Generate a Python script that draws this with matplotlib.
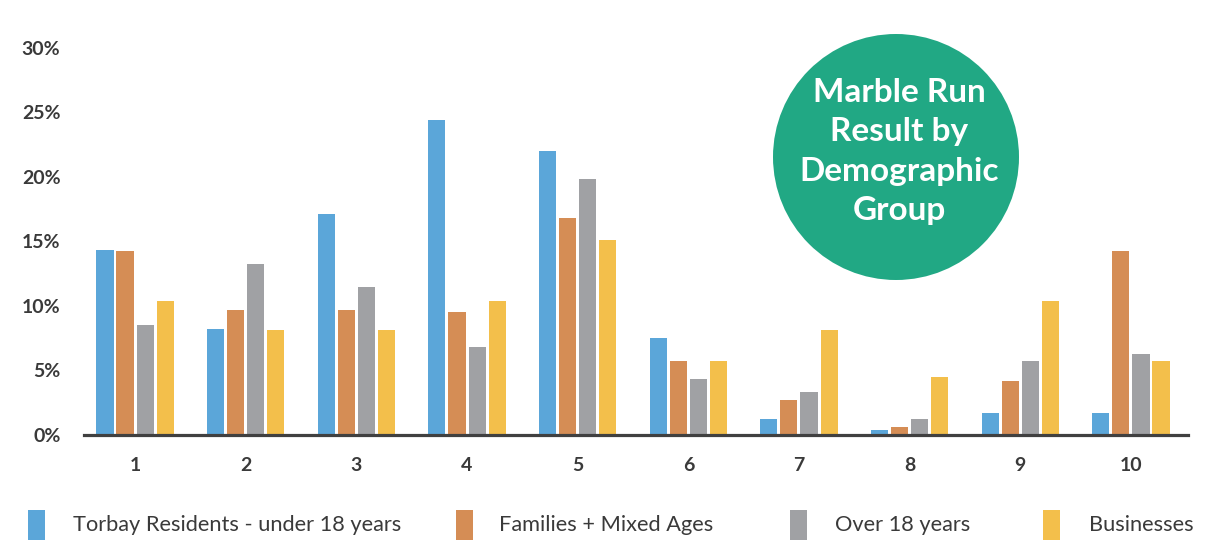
import matplotlib
matplotlib.use("Agg")
import matplotlib.pyplot as plt
from matplotlib.patches import Circle, Rectangle
import numpy as np

plt.rcParams["font.family"] = ["Lato", "DejaVu Sans"]

groups = ["1", "2", "3", "4", "5", "6", "7", "8", "9", "10"]
series_names = [
    "Torbay Residents - under 18 years",
    "Families + Mixed Ages",
    "Over 18 years",
    "Businesses",
]
under_18 = [14.3, 8.2, 17.1, 24.4, 22.0, 7.5, 1.2, 0.35, 1.65, 1.65]
families = [14.25, 9.7, 9.65, 9.5, 16.8, 5.7, 2.7, 0.55, 4.15, 14.25]
over_18 = [8.5, 13.2, 11.45, 6.8, 19.8, 4.3, 3.3, 1.2, 5.7, 6.25]
businesses = [10.35, 8.1, 8.1, 10.35, 15.1, 5.7, 8.1, 4.5, 10.35, 5.7]
y_ticks = [0, 5, 10, 15, 20, 25, 30]
title_lines = ["Marble Run", "Result by", "Demographic", "Group"]

colors = ["#5ba6d9", "#d58d55", "#a0a1a4", "#f3bf4b"]
text_color = "#3a3a3a"

W, H = 1223, 542
fig = plt.figure(figsize=(W / 100, H / 100), dpi=100)
ax = fig.add_axes([84 / W, 1 - 434.5 / H, (1188 - 84) / W, (434.5 - 48) / H])

x = np.arange(1, len(groups) + 1)
step = 0.181
width = 0.154
for i, (vals, col) in enumerate(zip([under_18, families, over_18, businesses], colors)):
    ax.bar(x + (i - 1.5) * step, vals, width=width, color=col, zorder=2)

ax.set_xlim(1 - 51 / 110.6, 10 + 57 / 110.6)
ax.set_ylim(0, 30)
ax.set_yticks(y_ticks)
ax.set_yticklabels([f"{t}%" for t in y_ticks])
ax.set_xticks(x)
ax.set_xticklabels(groups)
ax.tick_params(axis="both", length=0, labelsize=14, colors=text_color)
ax.tick_params(axis="y", pad=17)
ax.tick_params(axis="x", pad=16)
for lab in ax.get_xticklabels() + ax.get_yticklabels():
    lab.set_fontweight("bold")
for s in ["top", "right", "left"]:
    ax.spines[s].set_visible(False)
ax.spines["bottom"].set_linewidth(2.3)
ax.spines["bottom"].set_color("#404040")
ax.spines["bottom"].set_zorder(3)

# title badge
fig.patches.append(Circle((896 / 100, (H - 157) / 100), 1.23, transform=fig.dpi_scale_trans,
                          facecolor="#21a884", edgecolor="none", zorder=5))
for k, line in enumerate(title_lines):
    fig.text(899 / W, 1 - (92 + k * 39.5) / H, line, ha="center", va="center",
             color="white", fontsize=24, fontweight="bold", zorder=6)

# legend row
sq_x = [28, 456, 790, 1043]
txt_x = [73, 499, 835, 1089]
for name, col, sx, tx in zip(series_names, colors, sq_x, txt_x):
    fig.patches.append(Rectangle((sx / W, 1 - 540 / H), 17 / W, 30 / H,
                                 transform=fig.transFigure, facecolor=col, edgecolor="none"))
    fig.text(tx / W, 1 - 525 / H, name, ha="left", va="center", color=text_color, fontsize=15.7)

fig.savefig("out.png", dpi=100)
